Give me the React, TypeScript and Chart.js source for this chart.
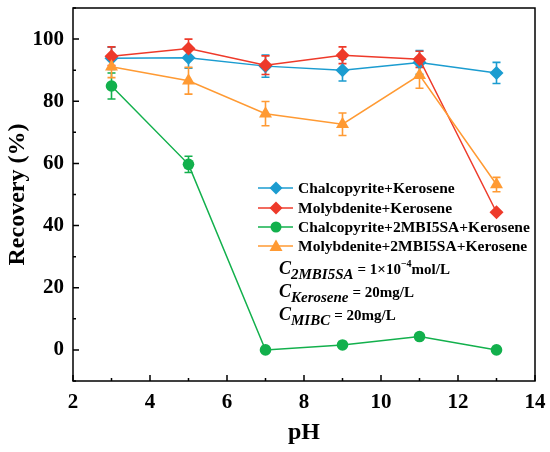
import { useEffect, useRef } from "react";
import { Chart, registerables } from "chart.js";

Chart.register(...registerables);

const phValues = [3, 5, 7, 9, 11, 13];

const chalcoKerosene = [93.8, 94.0, 91.3, 90.0, 92.5, 89.1];
const chalcoKeroseneErr = [3.6, 3.4, 3.6, 3.5, 3.8, 3.4];

const molyKerosene = [94.5, 97.0, 91.6, 94.8, 93.5, 44.3];
const molyKeroseneErr = [3.0, 3.0, 3.0, 2.7, 2.6, 0];

const chalcoReagent = [84.9, 59.7, 0, 1.6, 4.3, 0];
const chalcoReagentErr = [4.2, 2.6, 0, 0, 0, 0];

const molyReagent = [91.1, 86.6, 76.0, 72.6, 88.4, 53.2];
const molyReagentErr = [3.5, 4.3, 3.9, 3.6, 4.2, 2.3];

const seriesNames = [
  "Chalcopyrite+Kerosene",
  "Molybdenite+Kerosene",
  "Chalcopyrite+2MBI5SA+Kerosene",
  "Molybdenite+2MBI5SA+Kerosene",
];

const xTicks = [2, 4, 6, 8, 10, 12, 14];
const yTicks = [0, 20, 40, 60, 80, 100];

const FONT = "'Liberation Serif', 'Times New Roman', serif";

const colors = ["#1b9cd0", "#ee3a2a", "#12b04c", "#ff9a33"];
const markers = ["rectRot", "rectRot", "circle", "triangle"];
const markerSizes = [7, 7, 5.8, 7.5];
const legendSizes = [6.5, 6.5, 5.5, 6.5];

const errorBars = {
  id: "errorBars",
  beforeDatasetsDraw(chart: any) {
    const ctx = chart.ctx;
    const y = chart.scales.y;
    chart.data.datasets.forEach((ds: any, i: number) => {
      const meta = chart.getDatasetMeta(i);
      ctx.save();
      ctx.strokeStyle = ds.borderColor;
      ctx.lineWidth = 1.6;
      meta.data.forEach((pt: any, j: number) => {
        const e = ds.errors[j];
        if (!e) return;
        const v = ds.data[j].y;
        const top = y.getPixelForValue(v + e);
        const bot = y.getPixelForValue(v - e);
        ctx.beginPath();
        ctx.moveTo(pt.x, top);
        ctx.lineTo(pt.x, bot);
        ctx.moveTo(pt.x - 4, top);
        ctx.lineTo(pt.x + 4, top);
        ctx.moveTo(pt.x - 4, bot);
        ctx.lineTo(pt.x + 4, bot);
        ctx.stroke();
      });
      ctx.restore();
    });
  },
};

const frameAndExtras = {
  id: "frameAndExtras",
  afterDraw(chart: any) {
    const ctx = chart.ctx;
    const { left, right, top, bottom } = chart.chartArea;
    const xs = chart.scales.x;
    const ys = chart.scales.y;
    ctx.save();
    ctx.strokeStyle = "#000";
    ctx.lineWidth = 1.5;
    ctx.strokeRect(left, top, right - left, bottom - top);

    // inward ticks
    ctx.beginPath();
    for (let v = 2; v <= 14; v += 1) {
      const px = xs.getPixelForValue(v);
      const len = v % 2 === 0 ? 6 : 3;
      ctx.moveTo(px, bottom);
      ctx.lineTo(px, bottom - len);
    }
    for (let v = -10; v <= 110; v += 10) {
      const py = ys.getPixelForValue(v);
      const len = v % 20 === 0 ? 6 : 3;
      ctx.moveTo(left, py);
      ctx.lineTo(left + len, py);
    }
    ctx.stroke();

    // legend
    const lx = 258;
    const rows = [188, 208, 227, 246];
    seriesNames.forEach((name, i) => {
      const ry = rows[i];
      ctx.strokeStyle = colors[i];
      ctx.fillStyle = colors[i];
      ctx.lineWidth = 1.5;
      ctx.beginPath();
      ctx.moveTo(lx, ry);
      ctx.lineTo(lx + 35, ry);
      ctx.stroke();
      const cx = lx + 18;
      const s = legendSizes[i];
      ctx.beginPath();
      if (markers[i] === "rectRot") {
        ctx.moveTo(cx, ry - s);
        ctx.lineTo(cx + s, ry);
        ctx.lineTo(cx, ry + s);
        ctx.lineTo(cx - s, ry);
        ctx.closePath();
      } else if (markers[i] === "circle") {
        ctx.arc(cx, ry, s, 0, Math.PI * 2);
      } else {
        ctx.moveTo(cx, ry - s);
        ctx.lineTo(cx + s, ry + s * 0.75);
        ctx.lineTo(cx - s, ry + s * 0.75);
        ctx.closePath();
      }
      ctx.fill();
      ctx.fillStyle = "#000";
      ctx.font = `bold 15.5px ${FONT}`;
      ctx.textBaseline = "middle";
      ctx.textAlign = "left";
      ctx.fillText(name, 298, ry + 1);
    });

    // concentrations
    const lines = [
      { sub: "2MBI5SA", rest: "= 1\u00d710", sup: "\u22124", tail: "mol/L", y: 274 },
      { sub: "Kerosene", rest: "= 20mg/L", sup: "", tail: "", y: 297 },
      { sub: "MIBC", rest: "= 20mg/L", sup: "", tail: "", y: 320 },
    ];
    ctx.textBaseline = "alphabetic";
    lines.forEach((l) => {
      let x = 279;
      ctx.font = `italic bold 18px ${FONT}`;
      ctx.fillText("C", x, l.y);
      x += ctx.measureText("C").width;
      ctx.font = `italic bold 15px ${FONT}`;
      ctx.fillText(l.sub, x, l.y + 5);
      x += ctx.measureText(l.sub).width + 4;
      ctx.font = `bold 15px ${FONT}`;
      ctx.fillText(l.rest, x, l.y);
      x += ctx.measureText(l.rest).width;
      if (l.sup) {
        ctx.font = `bold 10px ${FONT}`;
        ctx.fillText(l.sup, x, l.y - 7);
        x += ctx.measureText(l.sup).width;
        ctx.font = `bold 15px ${FONT}`;
        ctx.fillText(l.tail, x, l.y);
      }
    });
    ctx.restore();
  },
};

export default function App() {
  const canvasRef = useRef<HTMLCanvasElement>(null);
  const chartRef = useRef<Chart>();

  useEffect(() => {
    if (!canvasRef.current) return;
    if (chartRef.current) chartRef.current.destroy();

    const allSeries = [chalcoKerosene, molyKerosene, chalcoReagent, molyReagent];
    const allErrors = [chalcoKeroseneErr, molyKeroseneErr, chalcoReagentErr, molyReagentErr];

    chartRef.current = new Chart(canvasRef.current, {
      type: "scatter",
      data: {
        datasets: allSeries.map((vals, i) => ({
          label: seriesNames[i],
          data: vals.map((v, j) => ({ x: phValues[j], y: v })),
          errors: allErrors[i],
          showLine: true,
          borderColor: colors[i],
          backgroundColor: colors[i],
          borderWidth: 1.5,
          pointStyle: markers[i],
          pointRadius: markerSizes[i],
          pointBorderWidth: 0,
          order: 4 - i,
        })) as any,
      },
      options: {
        animation: false,
        responsive: false,
        layout: { padding: { top: 8, right: 15, left: 0, bottom: 0 } },
        plugins: {
          legend: { display: false },
          tooltip: { enabled: false },
        },
        scales: {
          x: {
            type: "linear",
            min: 2,
            max: 14,
            afterBuildTicks: (s: any) => {
              s.ticks = xTicks.map((v) => ({ value: v }));
            },
            afterFit: (s: any) => {
              s.paddingLeft = 0;
              s.paddingRight = 0;
              s.height = 71;
            },
            grid: { display: false, drawTicks: false },
            border: { display: false },
            ticks: {
              color: "#000",
              padding: 9,
              font: { family: FONT, size: 21, weight: "bold" },
            },
            title: {
              display: true,
              text: "pH",
              color: "#000",
              padding: { top: 0, bottom: 5 },
              font: { family: FONT, size: 24, weight: "bold" },
            },
          },
          y: {
            type: "linear",
            min: -10,
            max: 110,
            afterBuildTicks: (s: any) => {
              s.ticks = yTicks.map((v) => ({ value: v }));
            },
            afterFit: (s: any) => {
              s.paddingTop = 0;
              s.paddingBottom = 0;
              s.width = 73;
            },
            grid: { display: false, drawTicks: false },
            border: { display: false },
            ticks: {
              color: "#000",
              padding: 9,
              font: { family: FONT, size: 21, weight: "bold" },
            },
            title: {
              display: true,
              text: "Recovery (%)",
              color: "#000",
              padding: { top: 3, bottom: 0 },
              font: { family: FONT, size: 24, weight: "bold" },
            },
          },
        },
      },
      plugins: [errorBars, frameAndExtras],
    });

    return () => {
      if (chartRef.current) chartRef.current.destroy();
    };
  }, []);

  return (
    <div style={{ position: "absolute", left: 0, top: 0, width: 550, height: 452, background: "#fff" }}>
      <canvas ref={canvasRef} width={550} height={452} style={{ width: 550, height: 452 }} />
    </div>
  );
}
